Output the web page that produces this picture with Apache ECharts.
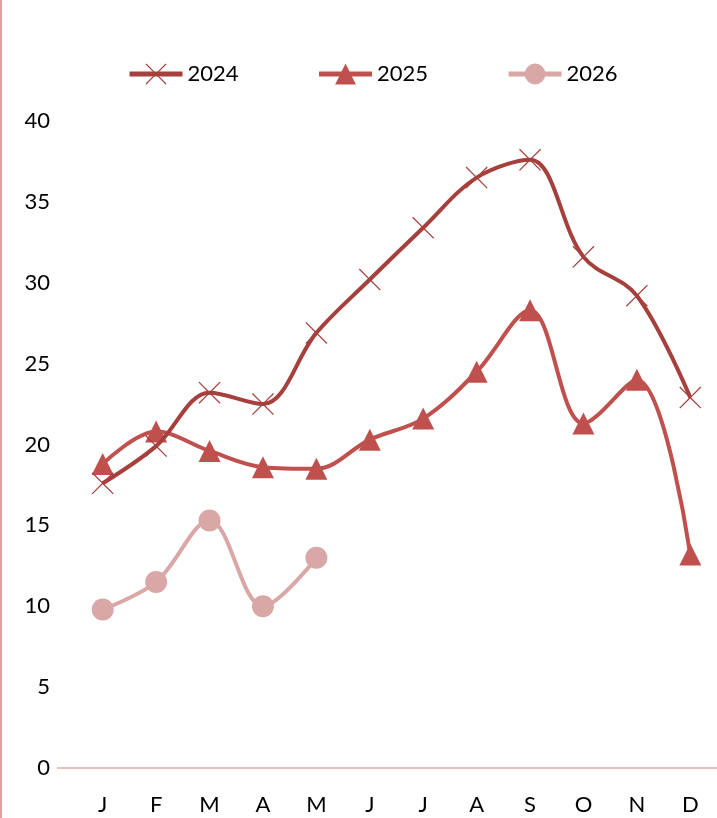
<!DOCTYPE html>
<html>
<head>
<meta charset="utf-8">
<script src="https://cdn.jsdelivr.net/npm/echarts@6/dist/echarts.min.js"></script>
<style>
  html, body { margin: 0; padding: 0; background: #fff; }
  #chart { width: 717px; height: 818px; }
</style>
</head>
<body>
<div id="chart"></div>
<script>
const months = ["J", "F", "M", "A", "M", "J", "J", "A", "S", "O", "N", "D"];
const y2024 = [17.6, 19.9, 23.2, 22.5, 26.9, 30.2, 33.4, 36.5, 37.6, 31.6, 29.2, 22.9];
const y2025 = [18.8, 20.8, 19.6, 18.6, 18.5, 20.3, 21.6, 24.5, 28.3, 21.3, 24.0, 13.2];
const y2026 = [9.8, 11.5, 15.3, 10.0, 13.0];

const crossPath = "path://M0,4 L4,0 L50,46 L96,0 L100,4 L54,50 L100,96 L96,100 L50,54 L4,100 L0,96 L46,50 Z";
const font = "Lato, 'Open Sans', sans-serif";

const chart = echarts.init(document.getElementById("chart"));

chart.setOption({
  animation: false,
  textStyle: { fontFamily: font },
  legend: {
    top: 58,
    left: 122,
    itemWidth: 53,
    itemHeight: 26,
    itemGap: 78,
    lineStyle: { width: 5 },
    textStyle: { fontSize: 22, color: "#000", fontFamily: font },
    data: ["2024", "2025", "2026"]
  },
  grid: { left: 76, top: 121, width: 643, bottom: 50, containLabel: false },
  xAxis: {
    type: "category",
    data: months,
    boundaryGap: true,
    axisLine: { show: false },
    axisTick: { show: false },
    axisLabel: { fontSize: 22, color: "#000", margin: 26, fontFamily: font }
  },
  yAxis: {
    type: "value",
    min: 0,
    max: 40,
    interval: 5,
    splitLine: { show: false },
    axisLine: { show: false },
    axisTick: { show: false },
    axisLabel: { fontSize: 22, color: "#000", margin: 26, fontFamily: font }
  },
  graphic: [
    { type: "rect", shape: { x: 0, y: 0, width: 2, height: 818 }, style: { fill: "#e0a0a0" } },
    { type: "line", shape: { x1: 57, y1: 768, x2: 717, y2: 768 }, style: { stroke: "#e8c0bf", lineWidth: 2 } }
  ],
  series: [
    {
      name: "2024",
      type: "line",
      data: y2024,
      smooth: 0.35,
      symbol: crossPath,
      symbolSize: 22,
      lineStyle: { color: "#a5403d", width: 4 },
      itemStyle: { color: "#a5403d" },
      z: 3
    },
    {
      name: "2025",
      type: "line",
      data: y2025,
      smooth: 0.35,
      symbol: "triangle",
      symbolSize: 22,
      lineStyle: { color: "#c0504d", width: 4 },
      itemStyle: { color: "#c0504d" },
      z: 2
    },
    {
      name: "2026",
      type: "line",
      data: y2026,
      smooth: 0.35,
      symbol: "circle",
      symbolSize: 22,
      lineStyle: { color: "#d9a7a6", width: 4 },
      itemStyle: { color: "#d9a7a6" },
      z: 1
    }
  ]
});
</script>
</body>
</html>
